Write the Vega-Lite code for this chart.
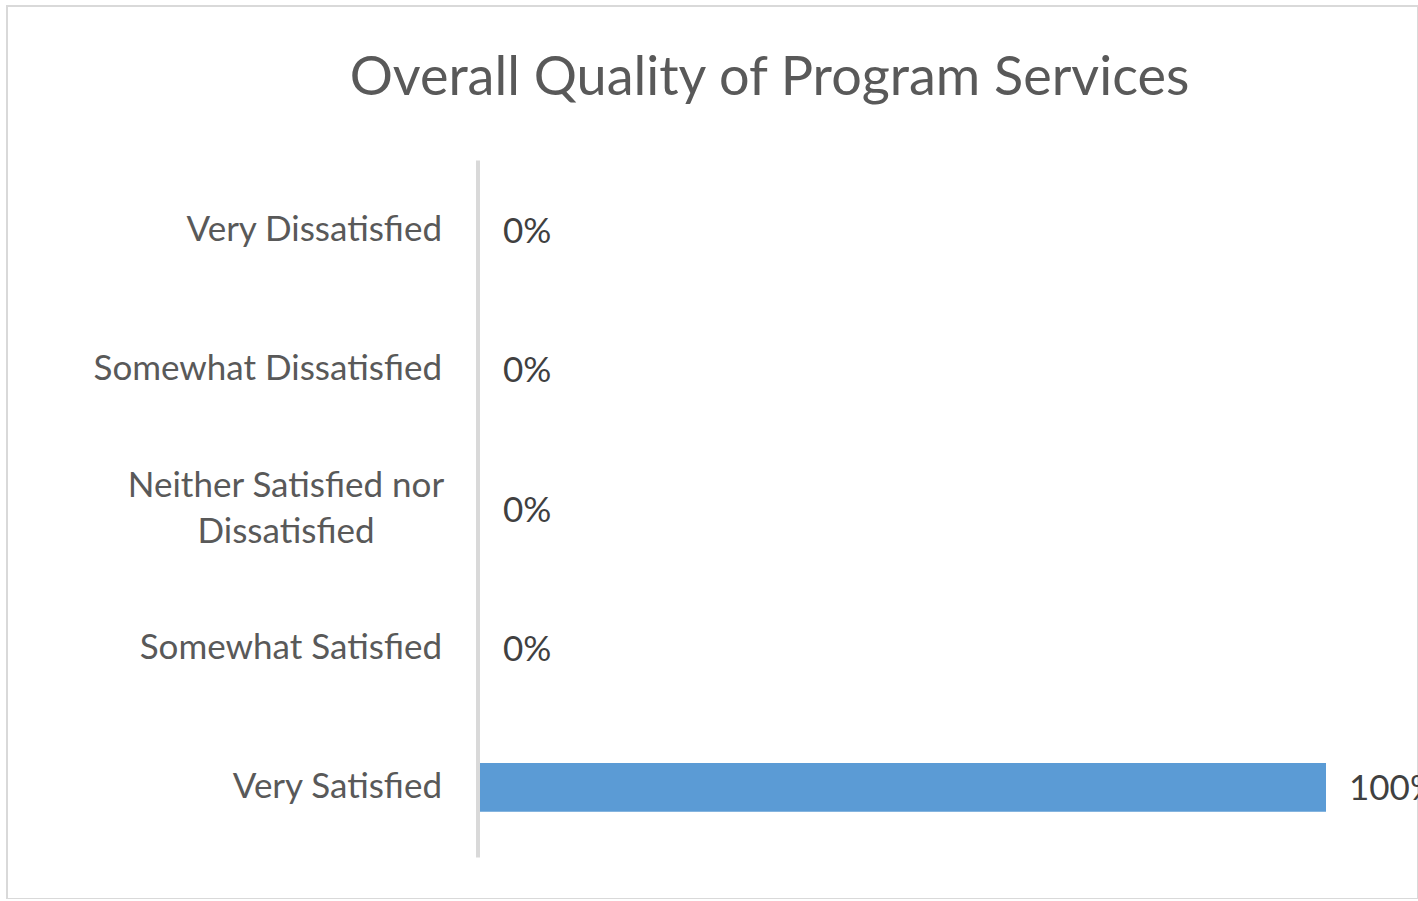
{
  "$schema": "https://vega.github.io/schema/vega-lite/v6.json",
  "autosize": {"type": "none"},
  "padding": {"left": 7, "top": 6, "right": 0, "bottom": 0},
  "width": 1411,
  "height": 893,
  "background": "white",
  "config": {
    "view": {"stroke": "#d9d9d9", "strokeWidth": 2},
    "font": "Lato"
  },
  "title": {
    "text": "Overall Quality of Program Services",
    "anchor": "middle",
    "frame": "group",
    "orient": "top",
    "baseline": "alphabetic",
    "offset": -143,
    "dx": 57,
    "font": "Lato",
    "fontSize": 54,
    "fontWeight": "normal",
    "color": "#595959"
  },
  "data": {
    "values": [
      {"category": "Very Dissatisfied", "pct": 0},
      {"category": "Somewhat Dissatisfied", "pct": 0},
      {"category": "Neither Satisfied nor Dissatisfied", "pct": 0},
      {"category": "Somewhat Satisfied", "pct": 0},
      {"category": "Very Satisfied", "pct": 1}
    ]
  },
  "encoding": {
    "y": {
      "field": "category",
      "type": "nominal",
      "sort": null,
      "scale": {"range": [154, 851], "paddingInner": 0.65, "paddingOuter": 0.325},
      "axis": {
        "title": null,
        "orient": "left",
        "offset": -470.5,
        "ticks": false,
        "tickSize": 0,
        "domainColor": "#d9d9d9",
        "domainWidth": 4,
        "labelFont": "Lato",
        "labelFontSize": 35,
        "labelColor": "#595959",
        "labelLineHeight": 46,
        "labelBaseline": "middle",
        "labelLimit": 1000,
        "labelExpr": "datum.value == 'Neither Satisfied nor Dissatisfied' ? ['Neither Satisfied nor', 'Dissatisfied'] : datum.value",
        "labelAlign": {"condition": {"test": "datum.value == 'Neither Satisfied nor Dissatisfied'", "value": "center"}, "value": "right"},
        "labelPadding": {"condition": {"test": "datum.value == 'Neither Satisfied nor Dissatisfied'", "value": 192}, "value": 36},
        "labelOffset": {"condition": {"test": "datum.value == 'Neither Satisfied nor Dissatisfied'", "value": -23}, "value": 0}
      }
    }
  },
  "layer": [
    {
      "mark": {"type": "bar", "color": "#5b9bd5"},
      "encoding": {
        "x": {
          "field": "pct",
          "type": "quantitative",
          "scale": {"domain": [0, 1], "range": [473, 1319], "nice": false, "zero": true},
          "axis": null
        }
      }
    },
    {
      "mark": {"type": "text", "align": "left", "baseline": "middle", "dx": 23, "dy": 2, "font": "Lato", "fontSize": 35, "color": "#404040"},
      "encoding": {
        "x": {"field": "pct", "type": "quantitative"},
        "text": {"field": "pct", "type": "quantitative", "format": ".0%"}
      }
    }
  ]
}
